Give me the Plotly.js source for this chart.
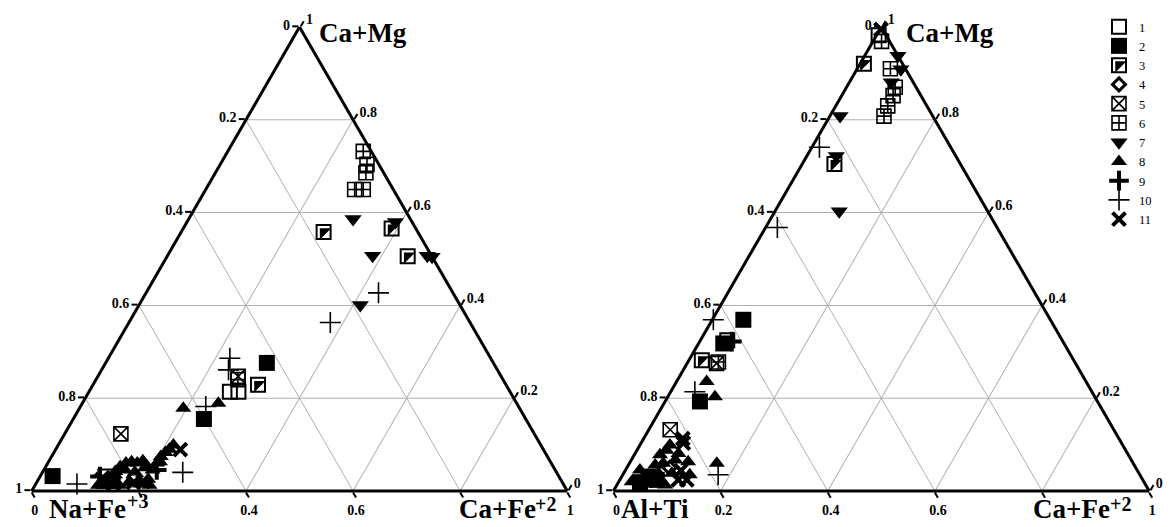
<!DOCTYPE html>
<html><head><meta charset="utf-8">
<script src="https://cdn.plot.ly/plotly-3.0.1.min.js"></script>
<style>html,body{margin:0;padding:0;background:#fff}#chart{width:1171px;height:527px}</style>
</head><body><div id="chart"></div>
<script>
// Each point: [Ca+Mg, Na+Fe+3 (left) / Al+Ti (right), Ca+Fe+2]
const seriesNames = ['1','2','3','4','5','6','7','8','9','10','11'];

const left1 = [[0.214,0.523,0.263],[0.214,0.507,0.279],[0.031,0.847,0.122]];
const left2 = [[0.276,0.423,0.301],[0.155,0.601,0.244],[0.032,0.945,0.023]];
const left3 = [[0.558,0.176,0.266],[0.566,0.045,0.389],[0.506,0.045,0.449],[0.229,0.463,0.308]];
const left4 = [[0.027,0.844,0.129],[0.031,0.791,0.178]];
const left5 = [[0.123,0.772,0.105],[0.247,0.491,0.262]];
const left6 = [[0.732,0.015,0.253],[0.704,0.022,0.274],[0.686,0.033,0.281],[0.650,0.072,0.278],[0.650,0.056,0.294],[0.240,0.495,0.265]];
const left7 = [[0.586,0.107,0.307],[0.580,0.031,0.389],[0.507,0.110,0.383],[0.507,0.008,0.485],[0.505,0.000,0.495],[0.401,0.186,0.413]];
const left8 = [[0.189,0.557,0.254],[0.178,0.628,0.194],[0.012,0.870,0.118],[0.013,0.857,0.130],[0.020,0.844,0.136],[0.042,0.823,0.135],[0.052,0.809,0.139],[0.060,0.794,0.146],[0.063,0.782,0.155],[0.060,0.773,0.167],[0.065,0.760,0.175],[0.052,0.758,0.190],[0.045,0.752,0.203],[0.060,0.736,0.204],[0.074,0.722,0.204],[0.083,0.709,0.208],[0.090,0.698,0.212],[0.099,0.686,0.215],[0.012,0.860,0.128],[0.012,0.831,0.157],[0.017,0.811,0.172],[0.015,0.790,0.195],[0.025,0.770,0.205],[0.024,0.851,0.125],[0.035,0.827,0.138],[0.045,0.803,0.152],[0.041,0.787,0.172],[0.050,0.764,0.186],[0.063,0.729,0.208],[0.012,0.842,0.146],[0.012,0.774,0.214]];
const left9 = [[0.031,0.857,0.112],[0.045,0.744,0.211]];
const left10 = [[0.427,0.139,0.434],[0.363,0.261,0.376],[0.286,0.487,0.227],[0.261,0.502,0.237],[0.182,0.584,0.234],[0.015,0.908,0.077],[0.040,0.698,0.262]];
const left11 = [[0.089,0.678,0.233],[0.024,0.857,0.119],[0.015,0.840,0.145],[0.018,0.801,0.181],[0.020,0.782,0.198]];

const right1 = [[0.982,0.014,0.004]];
const right2 = [[0.369,0.573,0.058],[0.318,0.636,0.046],[0.193,0.742,0.065],[0.031,0.919,0.050],[0.024,0.907,0.069],[0.019,0.941,0.040]];
const right3 = [[0.921,0.072,0.007],[0.705,0.235,0.060],[0.282,0.694,0.024],[0.325,0.625,0.050]];
const right4 = [[0.050,0.870,0.080]];
const right5 = [[0.275,0.670,0.055],[0.132,0.828,0.040]];
const right6 = [[0.969,0.015,0.016],[0.910,0.028,0.062],[0.870,0.039,0.091],[0.852,0.052,0.096],[0.830,0.073,0.097],[0.808,0.091,0.101],[0.278,0.665,0.057]];
const right7 = [[0.938,0.000,0.062],[0.909,0.009,0.082],[0.881,0.041,0.078],[0.808,0.173,0.019],[0.722,0.223,0.055],[0.603,0.277,0.120]];
const right8 = [[0.236,0.708,0.056],[0.203,0.709,0.088],[0.088,0.857,0.055],[0.067,0.851,0.082],[0.060,0.877,0.063],[0.063,0.829,0.108],[0.038,0.872,0.090],[0.038,0.897,0.065],[0.020,0.956,0.024],[0.060,0.777,0.163],[0.081,0.838,0.081],[0.045,0.928,0.027],[0.056,0.894,0.050],[0.078,0.874,0.048],[0.099,0.845,0.056],[0.035,0.840,0.125],[0.015,0.933,0.052],[0.013,0.897,0.090]];
const right9 = [[0.322,0.618,0.060]];
const right10 = [[0.741,0.245,0.014],[0.568,0.410,0.022],[0.369,0.629,0.002],[0.214,0.741,0.045],[0.035,0.787,0.178]];
const right11 = [[0.995,0.003,0.002],[0.103,0.818,0.079],[0.113,0.814,0.073],[0.024,0.851,0.125],[0.024,0.867,0.109],[0.044,0.852,0.104]];

const tickVals = [0, 0.2, 0.4, 0.6, 0.8, 1];
const NB = '\u00a0';
const leftATicks  = ['1','0.8','0.6','0.4','0.2','0'];
const leftBTicks  = ['1', NB, '0.6', '0.4', NB, '0'];
const leftCTicks  = ['1','0.8','0.6','0.4','0.2','0'];
const rightATicks = ['1','0.8','0.6','0.4','0.2','0'];
const rightBTicks = ['1', NB, '0.6', '0.4', '0.2', '0'];
const rightCTicks = ['1','0.8','0.6','0.4','0.2','0'];

// axis titles: main part + superscript part
const leftTitles  = {top:'Ca+Mg', left:'Na+Fe', leftSup:'+3', right:'Ca+Fe', rightSup:'+2'};
const rightTitles = {top:'Ca+Mg', left:'Al+Ti', right:'Ca+Fe', rightSup:'+2'};

const leftSeries = [left1,left2,left3,left4,left5,left6,left7,left8,left9,left10,left11];
const rightSeries = [right1,right2,right3,right4,right5,right6,right7,right8,right9,right10,right11];

const styles = [
  {symbol:'square-open', size:14, lw:2},
  {symbol:'square', size:16, lw:0},
  {symbol:'square-open', size:14, lw:2},
  {symbol:'diamond-open', size:10, lw:3},
  {symbol:'square-x-open', size:14, lw:1.6},
  {symbol:'square-cross-open', size:14, lw:1.6},
  {symbol:'triangle-down', size:15, lw:0},
  {symbol:'triangle-up', size:14, lw:0},
  {symbol:'cross-thin-open', size:14, lw:4},
  {symbol:'cross-thin-open', size:15, lw:1.6},
  {symbol:'x-thin-open', size:13, lw:4}
];

const traces = [];
function addPanel(series, subplot, first) {
  series.forEach((pts, i) => {
    const st = styles[i];
    traces.push({
      type:'scatterternary', mode:'markers', subplot:subplot,
      name: seriesNames[i], legendgroup: 's'+i, showlegend: first,
      a: pts.map(p=>p[0]), b: pts.map(p=>p[1]), c: pts.map(p=>p[2]),
      marker:{symbol:st.symbol, size:st.size, color:'#000', line:{color:'#000', width:st.lw}},
      cliponaxis:false, hoverinfo:'skip'
    });
    if (i === 2) { // black upper-left half of the half-filled square
      traces.push({
        type:'scatterternary', mode:'markers', subplot:subplot,
        name: seriesNames[i], legendgroup:'h'+i, showlegend: first, legend:'legend2',
        a: pts.map(p=>p[0]), b: pts.map(p=>p[1]), c: pts.map(p=>p[2]),
        marker:{symbol:'triangle-nw', size:st.size*0.9, color:'#000', line:{width:0}},
        cliponaxis:false, hoverinfo:'skip'
      });
    }
  });
}
addPanel(leftSeries, 'ternary', true);
addPanel(rightSeries, 'ternary2', false);

const tickFont = {family:'Liberation Serif', size:14, color:'#000', weight:'bold'};
function axis(tt) {
  return {
    tickmode:'array', tickvals:tickVals, ticktext:tt,
    ticks:'outside', ticklen:6, tickwidth:2, tickcolor:'#000',
    showline:true, linecolor:'#000', linewidth:3,
    showgrid:true, gridcolor:'#b0b0b0', gridwidth:1,
    tickfont:tickFont, title:{text:''}, layer:'below traces'
  };
}

const W = 1171, H = 527;
const titleFont = {family:'Liberation Serif', size:27, color:'#000', weight:'bold'};
const supFont = {family:'Liberation Serif', size:20, color:'#000', weight:'bold'};
function ann(text, px, py, xanchor, font) {
  return {text:text, x:px/W, y:1-py/H, xref:'paper', yref:'paper', xanchor:xanchor, yanchor:'middle',
          showarrow:false, font:font || titleFont, borderpad:0};
}
const legendFont = {family:'Liberation Serif', size:12.5, color:'#000'};

const layout = {
  width:W, height:H, margin:{l:0,r:0,t:0,b:0},
  font:{family:'Liberation Serif', color:'#000'},
  paper_bgcolor:'#fff', plot_bgcolor:'#fff', showlegend:true,
  ternary:{ domain:{x:[31.7/W, 567.3/W], y:[1-491/H, 1-27/H]}, sum:1, bgcolor:'#fff',
    aaxis:axis(leftATicks), baxis:axis(leftBTicks), caxis:axis(leftCTicks) },
  ternary2:{ domain:{x:[613.3/W, 1149.3/W], y:[1-491/H, 1-27/H]}, sum:1, bgcolor:'#fff',
    aaxis:axis(rightATicks), baxis:axis(rightBTicks), caxis:axis(rightCTicks) },
  legend:{x:1099/W, y:1-12/H, xanchor:'left', yanchor:'top', bgcolor:'rgba(0,0,0,0)',
    font:legendFont, tracegroupgap:0, itemwidth:30},
  legend2:{x:1099/W, y:1-50.4/H, xanchor:'left', yanchor:'top', bgcolor:'rgba(0,0,0,0)',
    font:{family:'Liberation Serif', size:12.5, color:'rgba(0,0,0,0)'}, tracegroupgap:0, itemwidth:30},
  annotations:[
    ann(leftTitles.top, 318, 33, 'left'),
    ann(leftTitles.left, 48, 509, 'left'),
    ann(leftTitles.leftSup, 126, 501, 'left', supFont),
    ann(leftTitles.right, 458, 509, 'left'),
    ann(leftTitles.rightSup, 534, 504, 'left', supFont),
    ann(rightTitles.top, 905, 33, 'left'),
    ann(rightTitles.left, 620, 509, 'left'),
    ann(rightTitles.right, 1032, 509, 'left'),
    ann(rightTitles.rightSup, 1109, 504, 'left', supFont)
  ]
};

Plotly.newPlot('chart', traces, layout, {displayModeBar:false, staticPlot:true});
</script></body></html>
